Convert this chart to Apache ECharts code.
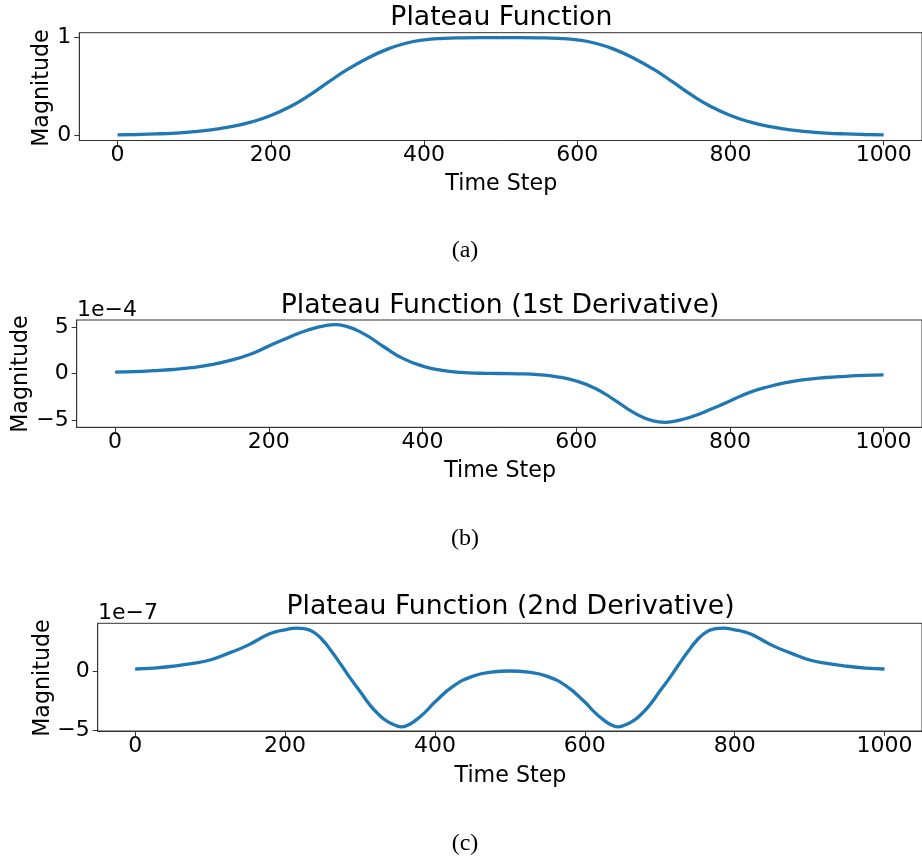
<!DOCTYPE html>
<html>
<head>
<meta charset="utf-8">
<script src="https://cdn.jsdelivr.net/npm/echarts@6/dist/echarts.min.js"></script>
<style>
html,body{margin:0;padding:0;background:#fff;}
#chart{width:922px;height:858px;}
</style>
</head>
<body>
<div id="chart"></div>
<script>
var xTicks = [0,200,400,600,800,1000];

// (a) Plateau function
var stepsA = [0,25,50,75,100,125,150,175,200,225,250,275,300,325,350,375,400,425,450,475,500,
              525,550,575,600,625,650,675,700,725,750,775,800,825,850,875,900,925,950,975,1000];
var plateau = [0.007,0.011,0.017,0.026,0.04,0.062,0.093,0.14,0.205,0.295,0.41,0.545,0.675,0.785,0.875,0.94,0.977,0.992,0.998,1.0,1.0,
               1.0,0.998,0.992,0.977,0.94,0.875,0.785,0.675,0.545,0.41,0.295,0.205,0.14,0.093,0.062,0.04,0.026,0.017,0.011,0.007];
var yTicksA = [0,1];

// (b) 1st derivative, in units of 1e-4
var stepsB = [0,25,50,75,100,125,150,175,200,225,250,275,285,300,325,350,375,400,425,450,475,500,
              525,550,575,600,625,650,675,700,715,725,750,775,800,825,850,875,900,925,950,975,1000];
var deriv1 = [0.14,0.2,0.3,0.43,0.63,0.95,1.42,2.05,2.95,3.85,4.65,5.18,5.25,5.1,4.2,2.85,1.6,0.8,0.35,0.12,0.03,0.0,
              -0.03,-0.12,-0.35,-0.8,-1.6,-2.85,-4.2,-5.1,-5.25,-5.18,-4.65,-3.85,-2.95,-2.05,-1.42,-0.95,-0.63,-0.43,-0.3,-0.2,-0.14];
var yTicksB = [-5,0,5];

// (c) 2nd derivative, in units of 1e-7
var stepsC = [0,25,50,75,100,125,150,175,187,200,215,225,237,250,262,275,287,300,312,325,337,350,355,365,375,387,400,425,450,475,500,
              525,550,575,600,613,625,635,645,650,663,675,688,700,713,725,738,750,763,775,785,800,813,825,850,875,900,925,950,975,1000];
var deriv2 = [0.17,0.25,0.4,0.62,0.92,1.5,2.15,3.0,3.28,3.45,3.6,3.55,3.3,2.6,1.65,0.5,-0.6,-1.7,-2.75,-3.65,-4.25,-4.62,-4.68,-4.5,-4.1,-3.45,-2.6,-1.25,-0.45,-0.1,0.0,
              -0.1,-0.45,-1.25,-2.6,-3.45,-4.1,-4.5,-4.68,-4.62,-4.25,-3.65,-2.75,-1.7,-0.6,0.5,1.65,2.6,3.3,3.55,3.6,3.45,3.28,3.0,2.15,1.5,0.92,0.62,0.4,0.25,0.17];
var yTicksC = [-5,0];

var titles = ['Plateau Function','Plateau Function (1st Derivative)','Plateau Function (2nd Derivative)'];
var captions = ['(a)','(b)','(c)'];
var offsets = ['','1e\u22124','1e\u22127'];

function pairs(xs, ys){ return xs.map(function(t,i){ return [t, ys[i]]; }); }

var FONT = 'DejaVu Sans';
var AX = '#333';
var TICKFS = 22;
var grids = [
  {left:79.3, top:32.7, width:844, height:107.8},
  {left:76.7, top:320, width:846.8, height:107.3},
  {left:97.7, top:623.3, width:825.5, height:107.7}
];
var yRanges = [[-0.05,1.05],[-5.78,5.75],[-5.03,4.0]];
var yTickSets = [yTicksA, yTicksB, yTicksC];
var seriesX = [stepsA, stepsB, stepsC];
var seriesY = [plateau, deriv1, deriv2];

function fmt(v){ return String(v).replace('-', '\u2212'); }

var option = {
  animation:false,
  backgroundColor:'#fff',
  grid: grids.map(function(g){ return {left:g.left, top:g.top, width:g.width, height:g.height, show:true, borderColor:AX, borderWidth:1, backgroundColor:'transparent'}; }),
  xAxis: grids.map(function(g,i){ return {
    type:'value', gridIndex:i, min:-50, max:1050, position:'bottom',
    axisLine:{show:true, onZero:false, lineStyle:{color:AX, width:1}},
    axisTick:{show:true, inside:false, length:5, lineStyle:{color:AX}, customValues:xTicks},
    axisLabel:{show:true, customValues:xTicks, fontSize:TICKFS, fontFamily:FONT, color:'#000', margin:4, formatter:fmt},
    splitLine:{show:false}
  }; }),
  yAxis: grids.map(function(g,i){ return {
    type:'value', gridIndex:i, min:yRanges[i][0], max:yRanges[i][1], position:'left',
    axisLine:{show:true, onZero:false, lineStyle:{color:AX, width:1}},
    axisTick:{show:true, inside:false, length:5, lineStyle:{color:AX}, customValues:yTickSets[i]},
    axisLabel:{show:true, customValues:yTickSets[i], fontSize:TICKFS, fontFamily:FONT, color:'#000', margin:8, formatter:fmt},
    splitLine:{show:false}
  }; }),
  series: seriesY.map(function(d,i){ return {
    type:'line', xAxisIndex:i, yAxisIndex:i, data:pairs(seriesX[i], d), smooth:0.5, showSymbol:false, symbol:'none',
    lineStyle:{color:'#1f77b4', width:3.3}, z:3
  }; }),
  graphic: []
};

var titleY = [18, 306, 607.5];
var titleX = [501.3, 500.1, 510.5];
var xNameY = [184.5, 471, 776];
var yNameX = [42.5, 21.7, 43.3];
var yNameY = [88, 374, 678];
var capY = [251, 539, 844];
var offY = [0, 310, 613];
var offX = [0, 77, 98];

function txt(s, x, y, size, family, align, rot){
  return {type:'text', x:x, y:y, rotation:rot||0, silent:true,
    style:{text:s, x:0, y:0, fontSize:size, fontFamily:family, fill:'#000',
      textAlign:align||'center', textVerticalAlign:'middle', align:align||'center', verticalAlign:'middle'}};
}
for (var i=0;i<3;i++){
  option.graphic.push(txt(titles[i], titleX[i], titleY[i], 26.7, FONT, 'center'));
  option.graphic.push(txt('Time Step', titleX[i], xNameY[i], 22.2, FONT, 'center'));
  option.graphic.push(txt('Magnitude', yNameX[i], yNameY[i], 22.2, FONT, 'center', Math.PI/2));
  option.graphic.push(txt(captions[i], 465, capY[i], 24, 'Liberation Serif', 'center'));
  if (offsets[i]) option.graphic.push(txt(offsets[i], offX[i], offY[i], TICKFS, FONT, 'left'));
}

var chart = echarts.init(document.getElementById('chart'), null, {renderer:'canvas'});
chart.setOption(option);
</script>
</body>
</html>
